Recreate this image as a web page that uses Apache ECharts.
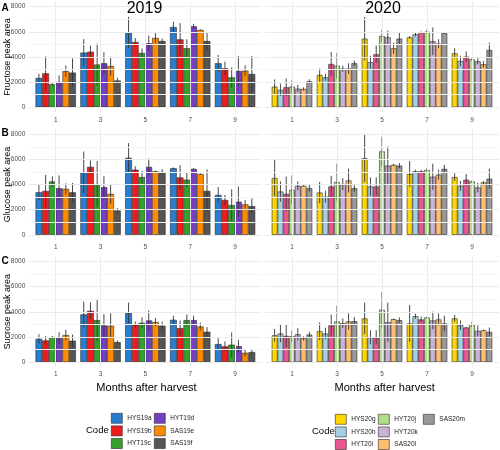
<!DOCTYPE html>
<html><head><meta charset="utf-8">
<script src="https://cdn.jsdelivr.net/npm/echarts@6/dist/echarts.min.js"></script>
<style>html,body{margin:0;padding:0;background:#fff}#c{width:500px;height:450px}</style>
</head><body><div id="c"></div>
<script>
// ---------- data ----------
const months = ['1', '3', '5', '7', '9'];
const codes2019 = ['HYS19a', 'HYS19b', 'HYT19c', 'HYT19d', 'SAS19e', 'SAS19f'];
const codes2020 = ['HYS20g', 'HYS20h', 'HYT20i', 'HYT20j', 'HYT20k', 'SAS20l', 'SAS20m'];
const yMajorTicks = [0, 2000, 4000, 6000, 8000];
const yMinorTicks = [1000, 3000, 5000, 7000];
const monthPositions = [1, 2, 3, 4, 5];

const fructose2019 = [
  [2330, 4350, 5960, 6380, 3500],
  [2700, 4420, 5190, 5400, 3100],
  [1830, 3400, 4320, 4690, 2380],
  [2010, 3500, 5090, 6440, 2890],
  [2870, 3280, 5510, 6150, 2910],
  [2760, 2130, 5270, 5270, 2650]
];
const fructose2019Err = [
  [330, 1075, 1230, 425, 660],
  [1350, 475, 320, 1290, 530],
  [80, 1675, 360, 715, 800],
  [525, 875, 610, 200, 1190],
  [450, 750, 395, 50, 425],
  [1125, 225, 195, 720, 1430]
];
const fructose2020 = [
  [1640, 2570, 5460, 5560, 4290],
  [1380, 2380, 3580, 5800, 3680],
  [1590, 3440, 4210, 5960, 4030],
  [1640, 3310, 5670, 6010, 3810],
  [1480, 3070, 5560, 5250, 3660],
  [1460, 3070, 4690, 5060, 3420],
  [2070, 3500, 5460, 5910, 4560]
];
const fructose2020Err = [
  [570, 530, 1720, 100, 400],
  [500, 280, 515, 170, 425],
  [700, 950, 685, 60, 425],
  [555, 1020, 465, 185, 90],
  [300, 240, 530, 1100, 235],
  [130, 425, 450, 355, 265],
  [160, 215, 460, 60, 585]
];
const glucose2019 = [
  [3380, 4970, 6120, 5290, 3170],
  [3490, 5400, 5180, 4560, 2770],
  [4240, 4030, 4590, 4380, 2360],
  [3700, 3790, 5400, 5240, 2630],
  [3650, 3250, 5050, 4830, 2420],
  [3380, 1930, 4990, 3490, 2280]
];
const glucose2019Err = [
  [605, 1650, 1170, 60, 620],
  [1275, 520, 270, 980, 405],
  [400, 1835, 495, 590, 1260],
  [1020, 870, 675, 60, 1210],
  [445, 765, 60, 60, 340],
  [740, 205, 230, 1705, 600]
];
const glucose2020 = [
  [4510, 3360, 6090, 4830, 4590],
  [3440, 3030, 3840, 5050, 3890],
  [3250, 3840, 3840, 5050, 4380],
  [3570, 4190, 6630, 5150, 4240],
  [3890, 4030, 5500, 4620, 3760],
  [3890, 4320, 5560, 4780, 4160],
  [3700, 3700, 5500, 5240, 4460]
];
const glucose2020Err = [
  [1435, 845, 1900, 1030, 295],
  [805, 470, 725, 130, 405],
  [1380, 845, 725, 100, 455],
  [1140, 1475, 1170, 160, 80],
  [350, 470, 1530, 1035, 375],
  [50, 950, 80, 400, 130],
  [265, 265, 200, 325, 795]
];
const sucrose2019 = [
  [1850, 3790, 3920, 3360, 1430],
  [1720, 4080, 2990, 2700, 1250],
  [1990, 3340, 3130, 3340, 1380],
  [1910, 2910, 3310, 3340, 1270],
  [2150, 2890, 3180, 2830, 740],
  [1700, 1590, 2890, 2410, 800]
];
const sucrose2019Err = [
  [360, 1020, 820, 315, 465],
  [355, 660, 240, 610, 395],
  [100, 1695, 440, 460, 980],
  [475, 910, 795, 345, 500],
  [425, 990, 335, 315, 305],
  [490, 130, 330, 370, 200]
];
const sucrose2020 = [
  [2130, 2450, 3470, 3070, 3470],
  [2270, 2270, 1970, 3650, 2930],
  [2080, 2910, 1970, 3390, 2750],
  [2050, 3230, 4160, 3550, 2990],
  [2210, 3090, 3170, 3310, 2480],
  [1890, 3230, 3410, 3390, 2530],
  [2190, 3250, 3330, 3070, 2400]
];
const sucrose2020Err = [
  [505, 710, 1255, 1465, 265],
  [690, 465, 560, 200, 390],
  [905, 870, 560, 215, 60],
  [465, 1250, 1400, 60, 215],
  [495, 375, 1560, 705, 440],
  [160, 640, 60, 480, 60],
  [225, 335, 215, 615, 350]
];

// ---------- styles / layout ----------
const colors2019 = ['#2a7ccf', '#ee1c1c', '#36a02e', '#7440c2', '#ff8a00', '#555555'];
const colors2020 = ['#ffd700', '#a6cee3', '#ec5690', '#b2df8a', '#cab2d6', '#fdbf6f', '#999999'];
const FONT = 'Liberation Sans, Arial, sans-serif';
const rowTops = [6.7, 134.2, 261.5];
const plotH = 100.6;
const cols = [
  { mainLeft: 33.3, band: 44.83 },
  { mainLeft: 269.5, band: 45 }
];
const rowNames = ['Fructose peak area', 'Glucose peak area', 'Sucrose peak area'];
const panelData = [
  [[fructose2019, fructose2019Err], [fructose2020, fructose2020Err]],
  [[glucose2019, glucose2019Err], [glucose2020, glucose2020Err]],
  [[sucrose2019, sucrose2019Err], [sucrose2020, sucrose2020Err]]
];

const grids = [], xAxes = [], yAxes = [], series = [];
let gi = 0;
for (let r = 0; r < 3; r++) {
  for (let c = 0; c < 2; c++) {
    const L = cols[c];
    const codes = c === 0 ? codes2019 : codes2020;
    const pal = c === 0 ? colors2019 : colors2020;
    const vals = panelData[r][c][0], errs = panelData[r][c][1];
    const n = codes.length;
    // background grid (ggplot panel with expansion)
    const bgIdx = gi++;
    grids.push({ left: L.mainLeft - 0.1 * L.band, top: rowTops[r] - 0.05 * plotH,
      width: L.band * 5.2, height: plotH * 1.1, outerBoundsMode: 'none' });
    xAxes.push({ type: 'value', gridIndex: bgIdx, min: 0.4, max: 5.6, show: false });
    yAxes.push({ type: 'value', gridIndex: bgIdx, min: -400, max: 8400, show: false });
    const ml = [];
    monthPositions.forEach(v => ml.push({ xAxis: v, lineStyle: { color: '#ebebeb', width: 1, type: 'solid' } }));
    yMajorTicks.forEach(v => ml.push({ yAxis: v, lineStyle: { color: '#ebebeb', width: 1, type: 'solid' } }));
    yMinorTicks.forEach(v => ml.push({ yAxis: v, lineStyle: { color: '#f4f4f4', width: 1, type: 'solid' } }));
    series.push({ type: 'line', xAxisIndex: bgIdx, yAxisIndex: bgIdx, data: [[1, 0]], symbol: 'none',
      lineStyle: { width: 0, opacity: 0 }, silent: true, z: 0, animation: false,
      markLine: { silent: true, symbol: ['none', 'none'], label: { show: false }, animation: false, data: ml } });

    // main grid
    const mi = gi++;
    grids.push({ left: L.mainLeft, top: rowTops[r], width: L.band * 5, height: plotH, outerBoundsMode: 'none' });
    xAxes.push({
      type: 'category', gridIndex: mi, data: months,
      axisLine: { show: false }, axisTick: { show: false }, splitLine: { show: false },
      axisLabel: { fontSize: 6.5, color: '#4d4d4d', margin: 9, fontFamily: FONT }
    });
    yAxes.push({
      type: 'value', gridIndex: mi, min: 0, max: 8000, interval: 2000,
      axisLine: { show: false }, axisTick: { show: false }, splitLine: { show: false },
      axisLabel: { show: c === 0, fontSize: 6.5, color: '#4d4d4d', margin: 8, fontFamily: FONT,
        formatter: v => String(v) }
    });
    for (let i = 0; i < n; i++) {
      series.push({
        type: 'bar', name: codes[i], xAxisIndex: mi, yAxisIndex: mi, data: vals[i],
        barGap: '0%', barCategoryGap: '10%', z: 2, animation: false,
        itemStyle: { color: pal[i], borderColor: '#2a2a2a', borderWidth: 0.6 }
      });
    }
    const eData = [];
    for (let i = 0; i < n; i++) for (let j = 0; j < 5; j++) eData.push([j, i, vals[i][j], errs[i][j]]);
    series.push({
      type: 'custom', xAxisIndex: mi, yAxisIndex: mi, z: 4, animation: false, silent: true,
      data: eData,
      renderItem: (function (nn) {
        return function (params, api) {
          const cat = api.value(0), si = api.value(1), m = api.value(2), e = api.value(3);
          const band = api.size([1, 0])[0];
          const bw = band * 0.9 / nn;
          const cx = api.coord([cat, 0])[0] - band * 0.45 + bw * (si + 0.5);
          const y1 = api.coord([cat, m + e])[1];
          const y2 = api.coord([cat, Math.max(0, m - e)])[1];
          return { type: 'line', shape: { x1: cx, y1: y1, x2: cx, y2: y2 },
            style: { stroke: '#333333', lineWidth: 0.9 } };
        };
      })(n)
    });
  }
}

function legendCol(names, pal, left, top) {
  return {
    orient: 'vertical', left: left, top: top, padding: 0, itemGap: 2,
    itemWidth: 11, itemHeight: 10, icon: 'rect', selectedMode: false,
    textStyle: { fontSize: 6.5, color: '#222', fontFamily: FONT, padding: [0, 0, 0, 0] },
    data: names.map((nm, k) => ({ name: nm, itemStyle: { color: pal[k], borderColor: '#2a2a2a', borderWidth: 0.6 } }))
  };
}
const legends = [
  legendCol(codes2019.slice(0, 3), colors2019.slice(0, 3), 111, 413),
  legendCol(codes2019.slice(3, 6), colors2019.slice(3, 6), 154, 413),
  legendCol(codes2020.slice(0, 3), colors2020.slice(0, 3), 335, 414),
  legendCol(codes2020.slice(3, 6), colors2020.slice(3, 6), 378, 414),
  legendCol(codes2020.slice(6, 7), colors2020.slice(6, 7), 423, 414)
];

const txt = (t, x, y, size, bold, align, rot) => ({
  type: 'text', x: x, y: y, rotation: rot || 0, silent: true, z: 10,
  style: { text: t, fill: '#000', font: (bold ? 'bold ' : '') + size + 'px ' + FONT,
    textAlign: align || 'left', textVerticalAlign: 'middle' }
});

const chart = echarts.init(document.getElementById('c'), null, { renderer: 'canvas' });
chart.setOption({
  animation: false,
  backgroundColor: '#ffffff',
  grid: grids, xAxis: xAxes, yAxis: yAxes, series: series,
  legend: legends,
  graphic: [
    txt('2019', 144.5, 8.5, 16, false, 'center'),
    txt('2020', 383, 8.5, 16, false, 'center'),
    txt('A', 1.5, 8, 10, true),
    txt('B', 1.5, 133.5, 10, true),
    txt('C', 1.5, 261.5, 10, true),
    txt(rowNames[0], 7.5, rowTops[0] + plotH / 2, 9, false, 'center', Math.PI / 2),
    txt(rowNames[1], 7.5, rowTops[1] + plotH / 2, 9, false, 'center', Math.PI / 2),
    txt(rowNames[2], 7.5, rowTops[2] + plotH / 2, 9, false, 'center', Math.PI / 2),
    txt('Months after harvest', 146.5, 388, 11, false, 'center'),
    txt('Months after harvest', 384.7, 388, 11, false, 'center'),
    txt('Code', 86, 430.5, 9.5, false),
    txt('Code', 312, 431, 9.5, false)
  ]
});
</script></body></html>
